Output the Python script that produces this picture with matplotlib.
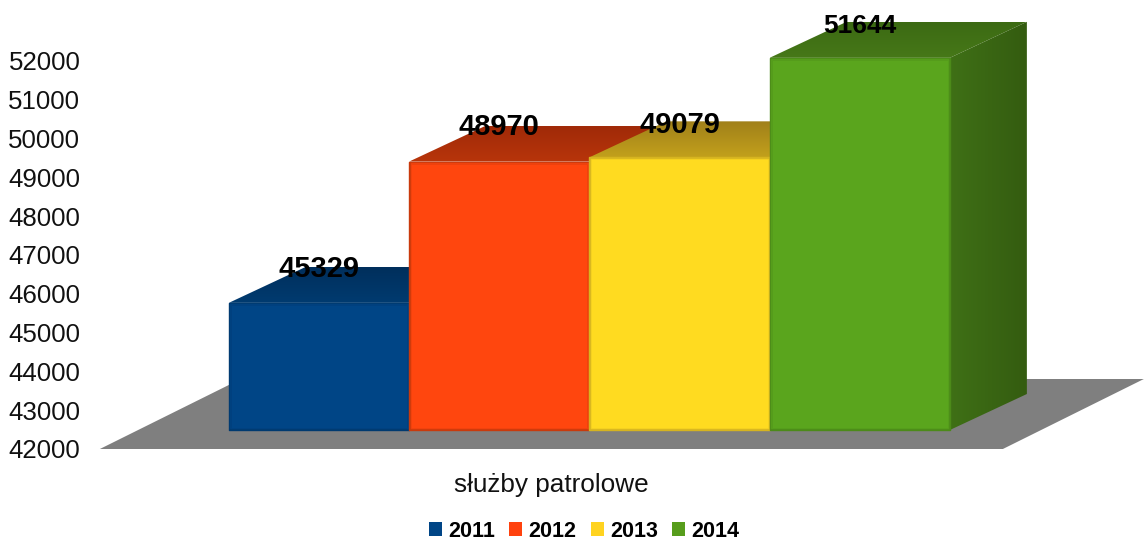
import numpy as np
import matplotlib
matplotlib.use('Agg')
import matplotlib.pyplot as plt
from matplotlib.patches import Polygon, Patch
from matplotlib.colors import LinearSegmentedColormap

plt.rcParams['font.family'] = ['Liberation Sans', 'DejaVu Sans']

years = ['2011', '2012', '2013', '2014']
values = [45329, 48970, 49079, 51644]
yticks = list(range(42000, 53000, 1000))
category = 'służby patrolowe'

front_cols = ['#004586', '#ff460e', '#ffdb20', '#5aa51d']
legend_cols = ['#004586', '#ff420e', '#ffd320', '#579d1c']
edge_cols = ['#003a70', '#c93a0c', '#d6b420', '#4c8a19']
top_cols = [('#002f5c', '#003b70'), ('#a02a08', '#b8350b'),
            ('#a0801a', '#c2a01c'), ('#3c6a13', '#467818')]
side_cols = ('#3f7016', '#345c10')
label_sizes = [21, 21, 21, 19]
label_shift = [2, 1.5, 3.5, 4.5]

W, H = 1144, 539
PX_X = 180.25   # pixels per bar
PX_Y = 0.0388   # pixels per unit
dx, dy = 1 / PX_X, 1 / PX_Y

depth_x, depth_y = 77 * dx, 36 * dy
lift_base = 19 * dy
lift_top = 17 * dy
half = 0.5

zc = [2]


def z():
    zc[0] += 1
    return zc[0]


def gradient(ax, poly, c0, c1, horizontal=False):
    # gradient image clipped to a polygon, c0 at top/left, c1 at bottom/right
    xy = np.array(poly)
    cmap = LinearSegmentedColormap.from_list('g', [c0, c1])
    grad = np.linspace(0, 1, 128)
    grad = grad.reshape(1, -1) if horizontal else grad.reshape(-1, 1)
    im = ax.imshow(grad, cmap=cmap, aspect='auto', origin='upper', zorder=z(),
                   extent=(xy[:, 0].min(), xy[:, 0].max(), xy[:, 1].min(), xy[:, 1].max()))
    clip = Polygon(poly, closed=True, transform=ax.transData, fc='none', ec='none')
    ax.add_patch(clip)
    im.set_clip_path(clip)


def rect(l, r, b, t):
    return [(l, b), (r, b), (r, t), (l, t)]


fig = plt.figure(figsize=(W / 100, H / 100), dpi=100)
left_px, base_px = 88, 449
ax = fig.add_axes([left_px / W, (H - base_px) / H, (W - left_px) / W, base_px / H])

x0_px = 319.0
ax.set_xlim((left_px - x0_px) * dx, (W - x0_px) * dx)
ax.set_ylim(42000, 42000 + base_px * dy)

# floor
floor = [(-0.5 - 129 * dx, 42000), (-0.5 + 774 * dx, 42000),
         (-0.5 + 915 * dx, 42000 + 70 * dy), (-0.5 + 12 * dx, 42000 + 70 * dy)]
ax.add_patch(Polygon(floor, closed=True, fc='#7f7f7f', ec='none', zorder=1))

for i, v in enumerate(values):
    l, r = i - half, i + half
    b = 42000 + lift_base
    t = v + lift_top
    # top face
    top = [(l, t), (r, t), (r + depth_x, t + depth_y), (l + depth_x, t + depth_y)]
    gradient(ax, top, top_cols[i][0], top_cols[i][1])
    # only the last bar shows its side
    if i == len(values) - 1:
        side = [(r, b), (r + depth_x, b + depth_y), (r + depth_x, t + depth_y), (r, t)]
        gradient(ax, side, side_cols[0], side_cols[1], horizontal=True)
    # front face, soft bevel from a darker rim and an inset fill
    ax.add_patch(Polygon(rect(l, r, b, t), closed=True, fc=edge_cols[i], ec=edge_cols[i],
                         lw=1.0, joinstyle='round', zorder=z()))
    ax.add_patch(Polygon(rect(l + 1.5 * dx, r - 1.5 * dx, b + 1.5 * dy, t - 1.5 * dy), closed=True,
                         fc=front_cols[i], ec=front_cols[i], lw=1.0, alpha=0.6,
                         joinstyle='round', zorder=z()))
    ax.add_patch(Polygon(rect(l + 3 * dx, r - 3 * dx, b + 3 * dy, t - 3 * dy), closed=True,
                         fc=front_cols[i], ec=front_cols[i], lw=1.0,
                         joinstyle='round', zorder=z()))

for i, v in enumerate(values):
    ax.text(i, v + lift_top + depth_y - label_shift[i] * dy, str(v), ha='center', va='center',
            fontsize=label_sizes[i], fontweight='bold', color='black', zorder=50)

for s in ax.spines.values():
    s.set_visible(False)
ax.patch.set_alpha(0)
ax.set_yticks(yticks)
ax.tick_params(axis='y', length=0, pad=5.5, labelsize=18.6, labelcolor='#111111')
ax.set_xticks([(-0.5 + 774 * dx - 0.5 - 129 * dx) / 2])
ax.set_xticklabels([category], fontsize=18.8, color='#111111')
ax.tick_params(axis='x', length=0, pad=17)

handles = [Patch(fc=c, ec='none', label=y) for c, y in zip(legend_cols, years)]
fig.legend(handles=handles, loc='center', bbox_to_anchor=(584 / W, 1 - 531.5 / H), ncol=4,
           frameon=False, borderpad=0, handlelength=0.62, handleheight=0.62,
           handletextpad=0.28, columnspacing=0.66,
           prop={'size': 15.5, 'weight': 'bold'})

fig.savefig('out.png', dpi=100)
